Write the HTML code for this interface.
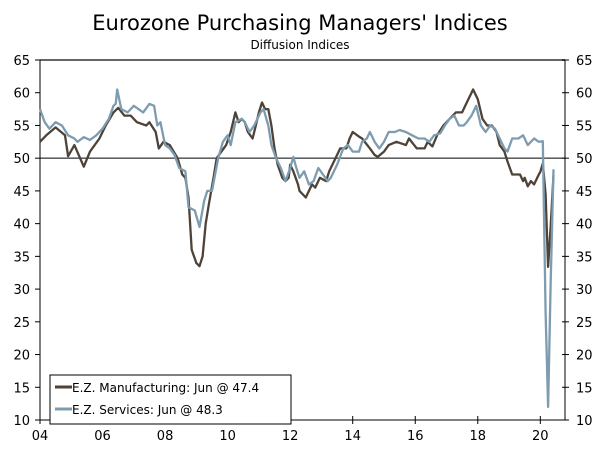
<!DOCTYPE html>
<html><head><meta charset="utf-8"><style>
body{margin:0;background:#fff;}
svg text{font-family:"DejaVu Sans","Liberation Sans",sans-serif;}
</style></head><body>
<svg id="chart" width="600" height="450" xmlns="http://www.w3.org/2000/svg">
<text x="300" y="30" text-anchor="middle" font-size="21" fill="#000">Eurozone Purchasing Managers' Indices</text>
<text x="300" y="49" text-anchor="middle" font-size="12" fill="#000">Diffusion Indices</text>
<g id="plot"></g>
</svg>
<script>
const xTickLabels=["04","06","08","10","12","14","16","18","20"];
const xTickYears=[2004,2006,2008,2010,2012,2014,2016,2018,2020];
const yTicks=[10,15,20,25,30,35,40,45,50,55,60,65];
const mfgDates=[2004.0,2004.2,2004.5,2004.8,2004.9,2005.1,2005.4,2005.6,2005.9,2006.1,2006.35,2006.5,2006.7,2006.9,2007.1,2007.4,2007.5,2007.7,2007.8,2007.95,2008.15,2008.4,2008.55,2008.65,2008.75,2008.85,2009.0,2009.1,2009.2,2009.3,2009.4,2009.55,2009.65,2009.8,2009.95,2010.1,2010.25,2010.35,2010.45,2010.55,2010.65,2010.8,2010.9,2011.0,2011.1,2011.2,2011.3,2011.4,2011.5,2011.6,2011.75,2011.85,2011.95,2012.0,2012.1,2012.25,2012.3,2012.5,2012.7,2012.8,2012.95,2013.15,2013.25,2013.45,2013.6,2013.8,2013.9,2014.0,2014.2,2014.3,2014.55,2014.7,2014.8,2015.0,2015.15,2015.4,2015.7,2015.8,2016.05,2016.3,2016.4,2016.55,2016.7,2016.9,2017.1,2017.3,2017.5,2017.65,2017.85,2018.0,2018.15,2018.3,2018.45,2018.6,2018.7,2018.85,2018.95,2019.1,2019.35,2019.45,2019.5,2019.6,2019.7,2019.8,2019.95,2020.0,2020.08,2020.17,2020.25,2020.33,2020.42];
const mfgValues=[52.5,53.5,54.7,53.5,50.3,52,48.7,51,53,55,57,57.7,56.5,56.5,55.5,55,55.5,54,51.5,52.5,52,50,47.5,47,44,36,34,33.5,35,40,43,47,50,51,52,54,57,55.5,56,55.5,54,53,55,57,58.5,57.5,57.5,55,51.5,49,47,46.5,47,49,48,46,45,44,46,45.5,47,46.5,48,50,51.5,51.5,53,54,53.3,53,51.5,50.5,50.2,51,52,52.5,52,53,51.5,51.5,52.5,51.8,53.5,55,56,57,57,58.5,60.5,59,56,55,55,54,52,51,49.5,47.5,47.5,46.5,47,45.7,46.5,46,47.5,47.9,49.2,44.5,33.4,39.4,47.4];
const svcDates=[2004.0,2004.15,2004.3,2004.5,2004.7,2004.9,2005.1,2005.2,2005.4,2005.6,2005.8,2006.0,2006.2,2006.35,2006.42,2006.47,2006.6,2006.8,2006.9,2007.0,2007.3,2007.5,2007.65,2007.75,2007.85,2008.0,2008.15,2008.3,2008.45,2008.65,2008.75,2008.95,2009.1,2009.25,2009.35,2009.5,2009.7,2009.85,2010.0,2010.1,2010.25,2010.45,2010.55,2010.7,2010.85,2011.05,2011.15,2011.3,2011.4,2011.55,2011.7,2011.85,2012.0,2012.1,2012.2,2012.3,2012.45,2012.6,2012.75,2012.9,2013.05,2013.2,2013.3,2013.5,2013.7,2013.85,2014.0,2014.2,2014.3,2014.45,2014.55,2014.7,2014.85,2015.0,2015.15,2015.35,2015.5,2015.7,2015.9,2016.1,2016.3,2016.45,2016.6,2016.8,2016.95,2017.1,2017.25,2017.4,2017.55,2017.65,2017.8,2017.95,2018.1,2018.25,2018.4,2018.55,2018.7,2018.85,2018.95,2019.1,2019.3,2019.45,2019.6,2019.8,2019.95,2020.08,2020.17,2020.25,2020.33,2020.42];
const svcValues=[57.5,55.5,54.5,55.5,55,53.5,53,52.5,53.2,52.8,53.5,54.5,56,58,58.3,60.5,57.5,57,57.5,58,57,58.3,58,55,55.5,52,51.5,50.5,48.5,48,42.5,42,39.5,43.5,45,45,50,52.5,53.5,52,55.5,56,55.5,54,55,57,57.5,55,52,50,48.5,46.5,48.5,50.2,48.5,47,48,46,46.5,48.5,47.5,46.5,47,49,51.5,52,51,51,52.5,53,54,52.5,51.5,52.5,54,54,54.3,54,53.5,53,53,52.5,53.5,53.8,55,56,56.5,55,55,55.5,56.5,58,55,54,55,54.5,53,51.5,51,53,53,53.5,52,53,52.5,52.6,26.4,12.0,30.5,48.3];

const L=40,R=565,T=60,B=420,Y0=2004,PXY=31.27;
const xs=t=>L+(t-Y0)*PXY;
const ys=v=>T+(65-v)*(B-T)/55;
const NS="http://www.w3.org/2000/svg";
const g=document.getElementById('plot');
function mk(tag,attrs,parent){const e=document.createElementNS(NS,tag);for(const k in attrs)e.setAttribute(k,attrs[k]);(parent||g).appendChild(e);return e;}

let e=mk('line',{x1:L,y1:T,x2:R,y2:T,stroke:'#666','stroke-width':2});


e=mk('line',{x1:L,y1:T,x2:L,y2:B,stroke:'#000','stroke-width':1});


e=mk('line',{x1:R,y1:T,x2:R,y2:B,stroke:'#000','stroke-width':1});


e=mk('line',{x1:L,y1:B,x2:R,y2:B,stroke:'#000','stroke-width':1});


e=mk('line',{x1:L,y1:ys(50),x2:R,y2:ys(50),stroke:'#000','stroke-width':1});



yTicks.forEach(v=>{
  const y=ys(v);
  let t=mk('line',{x1:L-5,y1:y,x2:L,y2:y,stroke:'#000'});
  
  
  t=mk('line',{x1:R-3,y1:y,x2:R+4,y2:y,stroke:'#000'});
  
  
  let tx=mk('text',{x:L-10,y:y+5,'text-anchor':'end','font-size':13});
  tx.textContent=v;
  
  
  tx=mk('text',{x:R+11,y:y+5,'text-anchor':'start','font-size':13});
  tx.textContent=v;
  
  
});
xTickYears.forEach((yr,i)=>{
  const x=xs(yr);
  let t=mk('line',{x1:x,y1:B-4,x2:x,y2:B+4,stroke:'#000'});
  
  
  let tx=mk('text',{x:x,y:B+20,'text-anchor':'middle','font-size':13});
  tx.textContent=xTickLabels[i];
  
  
});
function path(d,v){return d.map((t,i)=>(i?'L':'M')+xs(t).toFixed(1)+','+ys(v[i]).toFixed(1)).join('');}
e=mk('path',{d:path(mfgDates,mfgValues),fill:'none',stroke:'#4e4339','stroke-width':2.3,'stroke-linejoin':'round'});


e=mk('path',{d:path(svcDates,svcValues),fill:'none',stroke:'#7d9cb0','stroke-width':2.3,'stroke-linejoin':'round'});



const lg=mk('g',{});


mk('rect',{x:50,y:375,width:241,height:49,fill:'#fff',stroke:'#000','stroke-width':1},lg);
const legItems=[["E.Z. Manufacturing: Jun @ 47.4","#4e4339","legend-entry-manufacturing"],["E.Z. Services: Jun @ 48.3","#7d9cb0","legend-entry-services"]];
legItems.forEach((it,i)=>{
  const y=387+i*22;
  const ge=mk('g',{},lg);
  
  
  mk('line',{x1:55,y1:y,x2:72,y2:y,stroke:it[1],'stroke-width':3},ge);
  const tx=mk('text',{x:72,y:y+5,'font-size':12},ge);
  tx.textContent=it[0];
});
</script>
</body></html>
